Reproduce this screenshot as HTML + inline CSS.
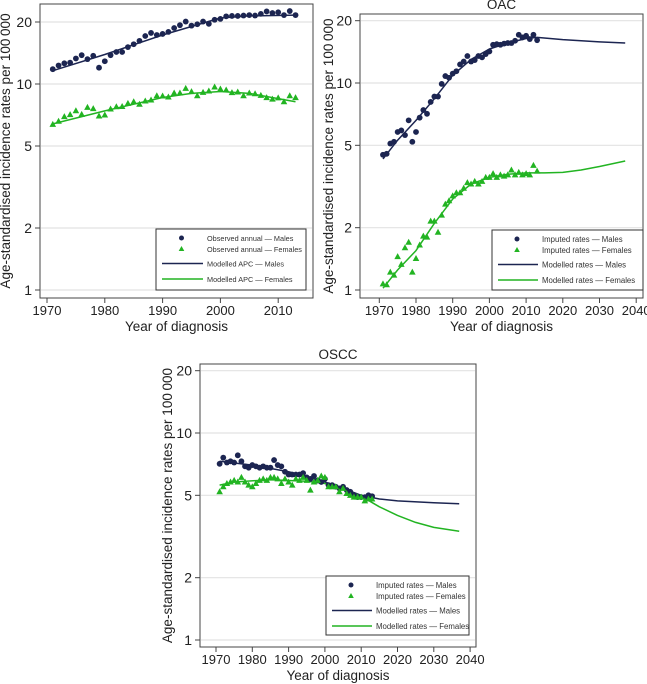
<!DOCTYPE html>
<html><head><meta charset="utf-8"><style>
body{margin:0;background:#fff;}
svg{display:block;font-family:"Liberation Sans",Arial,sans-serif;}
</style></head><body>
<svg id="c" width="647" height="684" viewBox="0 0 647 684"></svg>
<script>
// ---------- Data ----------
const yearsObs = [];
for (let y = 1971; y <= 2013; y++) yearsObs.push(y);
const yTicks = [1, 2, 5, 10, 20];

// Panel 1 (all oesophageal)
const p1Males = [11.8,12.3,12.6,12.7,13.3,13.8,13.2,13.7,12.0,12.9,13.8,14.3,14.3,15.1,15.6,16.2,17.1,17.7,17.3,17.5,17.9,18.7,19.3,20.1,19.2,19.5,20.1,19.6,20.5,20.7,21.3,21.4,21.4,21.5,21.6,21.5,21.9,22.5,22.1,22.3,21.6,22.6,21.6];
const p1Females = [6.37,6.59,6.94,7.10,7.42,7.12,7.70,7.59,6.99,7.07,7.56,7.76,7.78,8.05,8.20,7.97,8.27,8.36,8.77,8.74,8.65,9.04,9.04,9.52,9.18,8.77,9.11,9.25,9.67,9.46,9.35,9.08,9.14,8.77,9.04,8.97,8.81,8.59,8.45,8.56,8.20,8.77,8.59];
const p1ModelYears = [1971,1980,1990,2000,2005,2013];
const p1ModelMales = [11.6,13.9,17.3,20.9,21.4,21.6];
const p1ModelFemYears = [1971,1980,1990,1995,2000,2005,2013];
const p1ModelFemales = [6.4,7.4,8.6,9.0,9.2,9.0,8.2];

// Panel 2 OAC
const p2Males = [4.5,4.55,5.1,5.2,5.8,5.9,5.6,6.6,5.2,5.8,6.8,7.4,7.1,8.1,8.6,8.6,9.9,10.8,10.6,11.1,11.4,12.3,12.7,13.5,12.7,12.9,13.5,13.3,13.8,14.2,15.3,15.4,15.3,15.5,15.6,15.6,16.0,17.1,16.6,16.9,16.3,17.1,16.1];
const p2Females = [1.07,1.06,1.22,1.18,1.45,1.33,1.6,1.7,1.22,1.42,1.65,1.82,1.8,2.15,2.15,1.9,2.3,2.6,2.7,2.85,2.95,2.95,3.1,3.3,3.25,3.35,3.25,3.35,3.5,3.5,3.65,3.5,3.6,3.55,3.6,3.8,3.6,3.7,3.6,3.65,3.6,4.0,3.75];
const p2ModelMYears = [1971,1975,1980,1985,1990,1995,2000,2005,2010,2013,2020,2030,2037];
const p2ModelMales = [4.3,5.3,6.6,8.4,10.9,13.0,14.6,15.6,16.4,16.6,16.2,15.8,15.6];
const p2ModelFYears = [1971,1975,1980,1985,1990,1995,2000,2005,2010,2015,2020,2025,2030,2037];
const p2ModelFemales = [1.02,1.25,1.55,2.1,2.75,3.25,3.5,3.62,3.68,3.68,3.7,3.8,3.95,4.2];

// Panel 3 OSCC
const p3Males = [7.1,7.6,7.2,7.3,7.2,7.8,7.3,6.9,6.8,7.0,6.9,6.8,6.9,6.8,6.8,7.4,7.0,6.9,6.5,6.3,6.3,6.3,6.3,6.4,6.1,6.0,6.2,5.9,5.8,6.0,5.6,5.6,5.5,5.4,5.5,5.3,5.2,5.0,4.9,4.9,4.9,5.0,4.95];
const p3Females = [5.2,5.5,5.7,5.8,5.9,5.8,6.1,5.8,5.6,5.5,5.7,5.9,6.0,5.9,6.1,6.1,6.0,5.7,6.0,5.8,5.6,6.0,5.9,6.1,5.9,5.3,5.8,5.9,6.2,6.1,5.5,5.5,5.5,5.2,5.4,5.1,5.0,4.9,4.9,4.9,4.7,4.8,4.8];
const p3ModelMYears = [1971,1980,1990,2000,2005,2010,2015,2020,2030,2037];
const p3ModelMales = [7.3,7.0,6.5,5.8,5.4,5.0,4.8,4.7,4.6,4.55];
const p3ModelFYears = [1971,1975,1985,1995,2000,2005,2010,2015,2020,2025,2030,2037];
const p3ModelFemales = [5.6,5.8,5.95,5.85,5.7,5.35,4.95,4.4,4.0,3.7,3.5,3.35];

const NAVY = '#1c2551', GREEN = '#22b422';
const NS = 'http://www.w3.org/2000/svg';
const svg = document.getElementById('c');
function mk(tag, attrs, parent) {
  const e = document.createElementNS(NS, tag);
  for (const k in attrs) e.setAttribute(k, attrs[k]);
  (parent || svg).appendChild(e);
  return e;
}

function panel(cfg) {
  const g = mk('g', {});
  
  
  const xS = v => cfg.x0 + (v - 1970) * cfg.pxYear;
  const yS = v => cfg.y1 - Math.log10(v) * cfg.pxDec;
  const fr = mk('rect', {x: cfg.L, y: cfg.T, width: cfg.R - cfg.L, height: cfg.B - cfg.T, fill: '#fff', stroke: '#444', 'stroke-width': 1}, g);
  
  
  yTicks.forEach(t => {
    const y = yS(t);
    const gl = mk('line', {x1: cfg.L + 1, x2: cfg.R - 1, y1: y, y2: y, stroke: '#e2e2e2', 'stroke-width': 1.2}, g);
    
    
    mk('line', {x1: cfg.L - 5, x2: cfg.L, y1: y, y2: y, stroke: '#444'}, g);
    const tx = mk('text', {x: cfg.L - 8, y: y + 5, 'text-anchor': 'end', 'font-size': 14, fill: '#222'}, g);
    tx.textContent = t;
    
    
  });
  cfg.xTicks.forEach(t => {
    const x = xS(t);
    mk('line', {x1: x, x2: x, y1: cfg.B, y2: cfg.B + 5, stroke: '#444'}, g);
    const tx = mk('text', {x: x, y: cfg.B + 17, 'text-anchor': 'middle', 'font-size': 13, fill: '#222'}, g);
    tx.textContent = t;
    
    
  });
  const xt = mk('text', {x: (cfg.L + cfg.R) / 2, y: cfg.B + 33, 'text-anchor': 'middle', 'font-size': 13.5, fill: '#222'}, g);
  xt.textContent = 'Year of diagnosis';
  
  
  const cy = (cfg.T + cfg.B) / 2;
  const yt = mk('text', {x: cfg.yLabX, y: cy, 'text-anchor': 'middle', 'font-size': 13.5, fill: '#222', transform: `rotate(-90 ${cfg.yLabX} ${cy})`}, g);
  yt.textContent = 'Age-standardised incidence rates per 100\u2009000';
  
  
  if (cfg.title) {
    const tt = mk('text', {x: (cfg.L + cfg.R) / 2, y: cfg.T - 5, 'text-anchor': 'middle', 'font-size': 13.5, fill: '#222'}, g);
    tt.textContent = cfg.title;
    
    
  }
  function line(xs, vs, col, nm) {
    const d = xs.map((x, i) => (i ? 'L' : 'M') + xS(x).toFixed(1) + ',' + yS(vs[i]).toFixed(1)).join('');
    const p = mk('path', {d: d, fill: 'none', stroke: col, 'stroke-width': 1.5, 'stroke-linejoin': 'round'}, g);
    
    
  }
  line(cfg.mmY, cfg.mm, NAVY, 'model-line-males');
  line(cfg.mfY, cfg.mf, GREEN, 'model-line-females');
  cfg.males.forEach((v, i) => {
    const c = mk('circle', {cx: xS(yearsObs[i]), cy: yS(v), r: 2.9, fill: NAVY}, g);
    
    
  });
  cfg.females.forEach((v, i) => {
    const x = xS(yearsObs[i]), y = yS(v);
    const t = mk('polygon', {points: `${x},${y - 3.5} ${x - 3.3},${y + 2.5} ${x + 3.3},${y + 2.5}`, fill: GREEN}, g);
    
    
  });
  const lg = mk('g', {}, g);
  
  
  const [lx, ly, lw, lh] = cfg.leg;
  mk('rect', {x: lx, y: ly, width: lw, height: lh, fill: '#fff', stroke: '#333'}, lg);
  const rows = [ly + 9, ly + 20, ly + 34.5, ly + 50];
  const tx0 = lx + cfg.legTx;
  const mcx = lx + cfg.legTx / 2;
  mk('circle', {cx: mcx, cy: rows[0], r: 2.5, fill: NAVY}, lg);
  mk('polygon', {points: `${mcx},${rows[1] - 3} ${mcx - 2.8},${rows[1] + 2} ${mcx + 2.8},${rows[1] + 2}`, fill: GREEN}, lg);
  mk('line', {x1: lx + 6, x2: tx0 - 4, y1: rows[2], y2: rows[2], stroke: NAVY, 'stroke-width': 1.5}, lg);
  mk('line', {x1: lx + 6, x2: tx0 - 4, y1: rows[3], y2: rows[3], stroke: GREEN, 'stroke-width': 1.5}, lg);
  cfg.legLabels.forEach((s, i) => {
    const t = mk('text', {x: tx0, y: rows[i] + 3, 'font-size': cfg.legFs, fill: '#333'}, lg);
    t.textContent = s;
    
    
  });
}

panel({name: 'panel-all', L: 40, R: 313, T: 4, B: 298, x0: 47, pxYear: 5.78, y1: 290, pxDec: 206,
  xTicks: [1970,1980,1990,2000,2010], yLabX: 10, title: null,
  males: p1Males, females: p1Females, mmY: p1ModelYears, mm: p1ModelMales, mfY: p1ModelFemYears, mf: p1ModelFemales,
  leg: [156, 229, 150, 61], legTx: 51, legFs: 7.3,
  legLabels: ['Observed annual \u2014 Males','Observed annual \u2014 Females','Modelled APC \u2014 Males','Modelled APC \u2014 Females']});
panel({name: 'panel-oac', L: 360, R: 643, T: 14, B: 298, x0: 379.3, pxYear: 3.67, y1: 290, pxDec: 207,
  xTicks: [1970,1980,1990,2000,2010,2020,2030,2040], yLabX: 333, title: 'OAC',
  males: p2Males, females: p2Females, mmY: p2ModelMYears, mm: p2ModelMales, mfY: p2ModelFYears, mf: p2ModelFemales,
  leg: [492, 230, 151, 60], legTx: 50, legFs: 7.8,
  legLabels: ['Imputed rates \u2014 Males','Imputed rates \u2014 Females','Modelled rates \u2014 Males','Modelled rates \u2014 Females']});
panel({name: 'panel-oscc', L: 200, R: 476, T: 364, B: 647, x0: 216, pxYear: 3.63, y1: 640, pxDec: 207,
  xTicks: [1970,1980,1990,2000,2010,2020,2030,2040], yLabX: 172, title: 'OSCC',
  males: p3Males, females: p3Females, mmY: p3ModelMYears, mm: p3ModelMales, mfY: p3ModelFYears, mf: p3ModelFemales,
  leg: [326, 576, 143, 59], legTx: 50, legFs: 7.8,
  legLabels: ['Imputed rates \u2014 Males','Imputed rates \u2014 Females','Modelled rates \u2014 Males','Modelled rates \u2014 Females']});
</script>
</body></html>
